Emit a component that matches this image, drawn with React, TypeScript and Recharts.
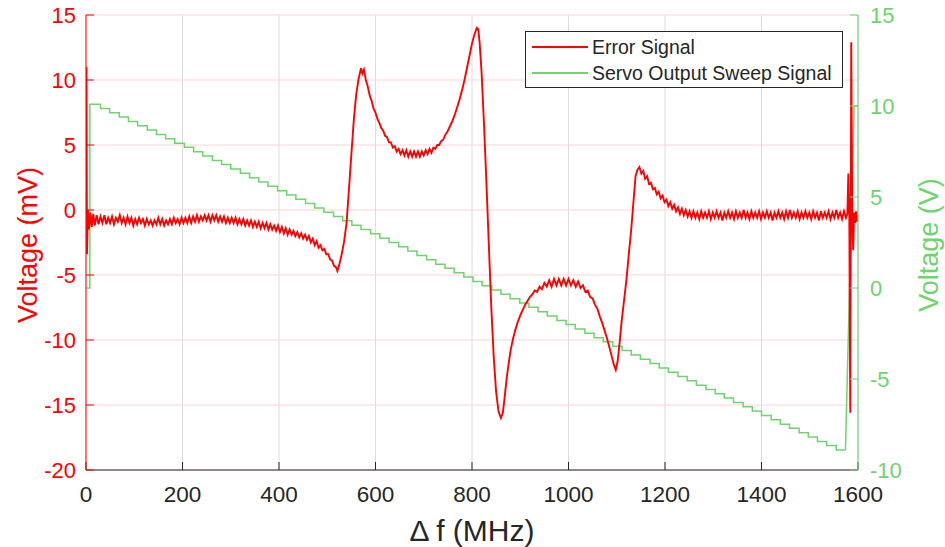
import React from 'react';
import { LineChart, Line, XAxis, YAxis, CartesianGrid } from 'recharts';

const FONT = '"Liberation Sans", Arial, Helvetica, sans-serif';
const RED = '#ff0000';
const GREEN = '#6fd36f';
const DARK = '#262626';

const xTicks = [0, 200, 400, 600, 800, 1000, 1200, 1400, 1600];
const leftTicks = [-20, -15, -10, -5, 0, 5, 10, 15];
const rightTicks = [-10, -5, 0, 5, 10, 15];

const seriesNames = ['Error Signal', 'Servo Output Sweep Signal'];

// Error signal: [frequency offset (MHz), voltage (mV)]
const errorSignal: [number, number][] = [
  [0, -3.4], [1, 11.0], [2, -3.4], [4, 0.0], [6, -1.5], [9, -0.2], [12, -1.3], [15, -0.3], [18, -1.2], [22, -0.4],
  [26, -1.1], [30, -0.5], [34, -1.0], [38, -0.4], [42, -1.1], [46, -0.6], [50, -1.0], [54, -0.5], [58, -1.1], [62, -0.6],
  [66, -0.9], [70, -0.4], [74, -1.0], [78, -0.6], [82, -1.1], [86, -0.5], [90, -1.0], [94, -0.6], [98, -1.2], [102, -0.7],
  [106, -1.1], [110, -0.6], [114, -1.0], [118, -0.7], [122, -1.2], [126, -0.7], [130, -1.1], [134, -0.8], [138, -1.2], [142, -0.8],
  [146, -1.1], [150, -0.6], [154, -1.1], [158, -0.7], [162, -1.2], [166, -0.8], [170, -1.1], [174, -0.7], [178, -1.1], [182, -0.6],
  [186, -1.0], [190, -0.7], [194, -1.1], [198, -0.6], [202, -1.0], [206, -0.6], [210, -1.0], [214, -0.5], [218, -1.0], [222, -0.5],
  [226, -0.9], [230, -0.4], [234, -0.9], [238, -0.5], [242, -0.8], [246, -0.4], [250, -0.8], [254, -0.4], [258, -0.9], [262, -0.4],
  [266, -0.8], [270, -0.4], [274, -0.9], [278, -0.5], [282, -0.9], [286, -0.5], [290, -1.0], [294, -0.6], [298, -1.0], [302, -0.6],
  [306, -1.0], [310, -0.6], [314, -1.1], [318, -0.7], [322, -1.1], [326, -0.7], [330, -1.2], [334, -0.8], [338, -1.2], [342, -0.8],
  [346, -1.3], [350, -0.9], [354, -1.3], [358, -0.9], [362, -1.4], [366, -1.0], [370, -1.4], [374, -1.0], [378, -1.5], [382, -1.1],
  [386, -1.5], [390, -1.2], [394, -1.6], [398, -1.2], [402, -1.7], [406, -1.3], [410, -1.8], [414, -1.4], [418, -1.9], [422, -1.5],
  [426, -1.9], [430, -1.6], [434, -2.0], [438, -1.7], [442, -2.1], [446, -1.8], [450, -2.2], [454, -1.9], [458, -2.3], [462, -2.0],
  [466, -2.5], [470, -2.2], [474, -2.7], [478, -2.4], [482, -2.9], [486, -2.7], [490, -3.1], [494, -3.0], [498, -3.4], [502, -3.4],
  [506, -3.8], [510, -3.9], [514, -4.3], [518, -4.4], [521, -4.7], [525, -4.2], [530, -3.4], [535, -2.4], [540, -1.0], [545, 1.6],
  [550, 4.3], [555, 6.9], [560, 8.9], [565, 10.1], [570, 10.9], [573, 10.5], [576, 10.8], [580, 10.0], [584, 9.5], [588, 8.8],
  [592, 8.4], [596, 7.8], [600, 7.5], [604, 7.0], [608, 6.7], [612, 6.3], [616, 6.1], [620, 5.7], [624, 5.6], [628, 5.2],
  [632, 5.2], [636, 4.8], [640, 4.9], [644, 4.5], [648, 4.7], [652, 4.3], [656, 4.6], [660, 4.2], [664, 4.6], [668, 4.1],
  [672, 4.5], [676, 4.1], [680, 4.5], [684, 4.1], [688, 4.5], [692, 4.1], [696, 4.5], [700, 4.2], [704, 4.6], [708, 4.3],
  [712, 4.7], [716, 4.4], [720, 4.8], [724, 4.7], [728, 5.0], [732, 5.0], [736, 5.3], [740, 5.4], [745, 5.8], [750, 6.1],
  [755, 6.5], [760, 6.9], [765, 7.4], [770, 8.0], [775, 8.6], [780, 9.3], [785, 10.1], [790, 11.0], [795, 11.9], [800, 12.8],
  [805, 13.5], [810, 14.0], [813, 13.9], [816, 12.8], [820, 10.5], [825, 6.5], [830, 2.0], [835, -2.8], [840, -7.5], [845, -11.3],
  [850, -14.0], [855, -15.5], [860, -16.0], [864, -15.6], [868, -14.3], [872, -12.9], [876, -11.8], [880, -10.8], [885, -9.9], [890, -9.2],
  [895, -8.6], [900, -8.1], [905, -7.7], [910, -7.3], [915, -7.0], [920, -6.7], [925, -6.5], [930, -6.2], [935, -6.3], [940, -5.9],
  [945, -6.1], [950, -5.6], [955, -5.9], [960, -5.4], [965, -5.9], [970, -5.3], [975, -5.8], [980, -5.3], [985, -5.8], [990, -5.3],
  [995, -5.8], [1000, -5.3], [1005, -5.8], [1010, -5.4], [1015, -5.9], [1020, -5.5], [1025, -6.0], [1030, -5.8], [1035, -6.3], [1040, -6.2],
  [1045, -6.7], [1050, -6.8], [1055, -7.3], [1060, -7.6], [1065, -8.2], [1070, -8.7], [1075, -9.3], [1080, -9.9], [1085, -10.6], [1090, -11.3],
  [1094, -11.9], [1098, -12.3], [1102, -11.6], [1106, -10.2], [1110, -8.6], [1115, -7.0], [1120, -5.4], [1125, -3.4], [1130, -1.5], [1135, 0.8],
  [1139, 2.6], [1143, 3.1], [1147, 3.3], [1151, 2.8], [1155, 3.0], [1159, 2.4], [1163, 2.6], [1167, 2.0], [1171, 2.1], [1175, 1.6],
  [1179, 1.7], [1183, 1.2], [1187, 1.4], [1191, 0.9], [1195, 1.1], [1199, 0.6], [1203, 0.8], [1207, 0.3], [1211, 0.6], [1215, 0.1],
  [1219, 0.4], [1223, -0.1], [1227, 0.2], [1231, -0.3], [1235, 0.1], [1239, -0.4], [1243, 0.0], [1247, -0.5], [1251, -0.1], [1255, -0.6],
  [1259, -0.1], [1263, -0.6], [1267, -0.2], [1271, -0.7], [1275, -0.1], [1279, -0.6], [1283, -0.2], [1287, -0.6], [1291, -0.1], [1295, -0.7],
  [1299, -0.2], [1303, -0.6], [1307, -0.1], [1311, -0.6], [1315, -0.2], [1319, -0.8], [1323, -0.2], [1327, -0.6], [1331, -0.1], [1335, -0.6],
  [1339, -0.2], [1343, -0.7], [1347, -0.1], [1351, -0.6], [1355, -0.2], [1359, -0.6], [1363, 0.0], [1367, -0.6], [1371, -0.2], [1375, -0.7],
  [1379, -0.1], [1383, -0.6], [1387, -0.2], [1391, -0.6], [1395, -0.1], [1399, -0.7], [1403, -0.2], [1407, -0.6], [1411, -0.1], [1415, -0.6],
  [1419, -0.2], [1423, -0.8], [1427, -0.2], [1431, -0.6], [1435, -0.1], [1439, -0.6], [1443, -0.2], [1447, -0.7], [1451, -0.1], [1455, -0.6],
  [1459, 0.0], [1463, -0.6], [1467, -0.2], [1471, -0.6], [1475, -0.1], [1479, -0.7], [1483, -0.2], [1487, -0.6], [1491, -0.1], [1495, -0.6],
  [1499, -0.2], [1503, -0.7], [1507, -0.1], [1511, -0.6], [1515, -0.2], [1519, -0.8], [1523, -0.1], [1527, -0.6], [1531, -0.2], [1535, -0.6],
  [1539, -0.1], [1543, -0.7], [1547, -0.2], [1551, -0.6], [1555, 0.0], [1559, -0.6], [1563, -0.2], [1567, -0.7], [1571, -0.1], [1575, -0.6],
  [1578, -0.3], [1580, 2.8], [1582, -0.4], [1584, -15.6], [1586, 12.9], [1588, -0.4], [1590, -3.1], [1592, -0.2], [1594, -1.0], [1596, -0.1],
  [1598, -0.9], [1600, -0.4],
];

// Servo sweep staircase: [frequency offset (MHz), voltage (V)] at each step start
const sweepSteps: [number, number][] = [
  [0, 0.0], [8, 10.10], [30, 9.86], [49, 9.63], [69, 9.39], [88, 9.15], [107, 8.91], [127, 8.68], [146, 8.44], [165, 8.20],
  [184, 7.96], [204, 7.73], [223, 7.49], [242, 7.25], [262, 7.01], [281, 6.78], [300, 6.54], [320, 6.30], [339, 6.06], [358, 5.83],
  [377, 5.59], [397, 5.35], [416, 5.11], [435, 4.88], [455, 4.64], [474, 4.40], [493, 4.16], [513, 3.93], [532, 3.69], [551, 3.45],
  [570, 3.21], [590, 2.98], [609, 2.74], [628, 2.50], [648, 2.26], [667, 2.03], [686, 1.79], [706, 1.55], [725, 1.31], [744, 1.08],
  [763, 0.84], [783, 0.60], [802, 0.36], [821, 0.13], [841, -0.11], [860, -0.35], [879, -0.59], [899, -0.82], [918, -1.06], [937, -1.30],
  [956, -1.54], [976, -1.78], [995, -2.01], [1014, -2.25], [1034, -2.49], [1053, -2.73], [1072, -2.96], [1092, -3.20], [1111, -3.44], [1130, -3.68],
  [1149, -3.91], [1169, -4.15], [1188, -4.39], [1207, -4.63], [1227, -4.86], [1246, -5.10], [1265, -5.34], [1285, -5.58], [1304, -5.81], [1323, -6.05],
  [1342, -6.29], [1362, -6.53], [1381, -6.76], [1400, -7.00], [1420, -7.24], [1439, -7.48], [1458, -7.71], [1478, -7.95], [1497, -8.19], [1516, -8.43],
  [1535, -8.66], [1555, -8.90], [1574, -8.90],
];

// Sweep reset at the end of the scan
const sweepReset: [number, number][] = [
  [1574, -8.90], [1592, 10.0], [1600, 10.0],
];

const toPts = (arr: [number, number][]) => arr.map(([x, v]) => ({ x, v }));

const errorData = toPts(errorSignal);
const stepData = toPts(sweepSteps);
const resetData = toPts(sweepReset);

export default function App() {
  return (
    <div style={{ position: 'absolute', left: 0, top: 0, width: 945, height: 547, background: '#fff', fontFamily: FONT }}>
      <LineChart width={945} height={547} margin={{ top: 15, right: 0, bottom: 0, left: 0 }}>
        <CartesianGrid xAxisId="b" yAxisId="l" horizontal={false} stroke="#dcdcdc" strokeWidth={1} />
        <CartesianGrid xAxisId="b" yAxisId="l" vertical={false} stroke="#ffd4d4" strokeWidth={1} />
        <XAxis
          xAxisId="b"
          dataKey="x"
          type="number"
          domain={[0, 1600]}
          ticks={xTicks}
          interval={0}
          height={77}
          allowDataOverflow
          tickSize={-8}
          tickMargin={24}
          stroke={DARK}
          tickLine={{ stroke: DARK }}
          tick={{ fill: DARK, fontSize: 22.5, fontFamily: FONT }}
        />
        <XAxis
          xAxisId="t"
          orientation="top"
          dataKey="x"
          type="number"
          domain={[0, 1600]}
          ticks={xTicks}
          interval={0}
          height={0}
          allowDataOverflow
          tickSize={-8}
          tickFormatter={() => ''}
          stroke={DARK}
          tickLine={{ stroke: DARK }}
        />
        <YAxis
          yAxisId="l"
          type="number"
          domain={[-20, 15]}
          ticks={leftTicks}
          interval={0}
          width={86}
          allowDataOverflow
          tickSize={-8}
          tickMargin={18}
          stroke={RED}
          tickLine={{ stroke: RED }}
          tick={{ fill: RED, fontSize: 22, fontFamily: FONT }}
        />
        <YAxis
          yAxisId="r"
          orientation="right"
          type="number"
          domain={[-10, 15]}
          ticks={rightTicks}
          interval={0}
          width={87}
          allowDataOverflow
          tickSize={-8}
          tickMargin={20}
          stroke={GREEN}
          tickLine={{ stroke: GREEN }}
          tick={{ fill: GREEN, fontSize: 22, fontFamily: FONT }}
        />
        <Line
          xAxisId="b"
          yAxisId="r"
          data={stepData}
          dataKey="v"
          type="stepAfter"
          stroke={GREEN}
          strokeWidth={1.5}
          dot={false}
          isAnimationActive={false}
          name={seriesNames[1]}
        />
        <Line
          xAxisId="b"
          yAxisId="r"
          data={resetData}
          dataKey="v"
          type="linear"
          stroke={GREEN}
          strokeWidth={1.5}
          dot={false}
          isAnimationActive={false}
          legendType="none"
        />
        <Line
          xAxisId="b"
          yAxisId="l"
          data={errorData}
          dataKey="v"
          type="linear"
          stroke={RED}
          strokeWidth={1.9}
          dot={false}
          isAnimationActive={false}
          name={seriesNames[0]}
        />
      </LineChart>

      {/* Axis titles */}
      <div style={{ position: 'absolute', left: 28, top: 245, transform: 'translate(-50%, -50%) rotate(-90deg)', whiteSpace: 'nowrap', color: RED, fontSize: 27 }}>
        Voltage (mV)
      </div>
      <div style={{ position: 'absolute', left: 929, top: 245, transform: 'translate(-50%, -50%) rotate(-90deg)', whiteSpace: 'nowrap', color: GREEN, fontSize: 27 }}>
        Voltage (V)
      </div>
      <div style={{ position: 'absolute', left: 472, top: 531, transform: 'translate(-50%, -50%)', whiteSpace: 'nowrap', color: DARK, fontSize: 30 }}>
        Δ f (MHz)
      </div>

      {/* Legend */}
      <div style={{ position: 'absolute', left: 525, top: 31, width: 316, height: 55, border: `1px solid ${DARK}`, background: '#fff' }}>
        {seriesNames.map((name, i) => (
          <div key={name} style={{ position: 'absolute', left: 0, top: i === 0 ? 3 : 29, height: 24, display: 'flex', alignItems: 'center' }}>
            <div style={{ marginLeft: 6, width: 56, height: 2, background: i === 0 ? RED : GREEN }} />
            <span style={{ marginLeft: 4, fontSize: 19.5, color: DARK }}>{name}</span>
          </div>
        ))}
      </div>
    </div>
  );
}
